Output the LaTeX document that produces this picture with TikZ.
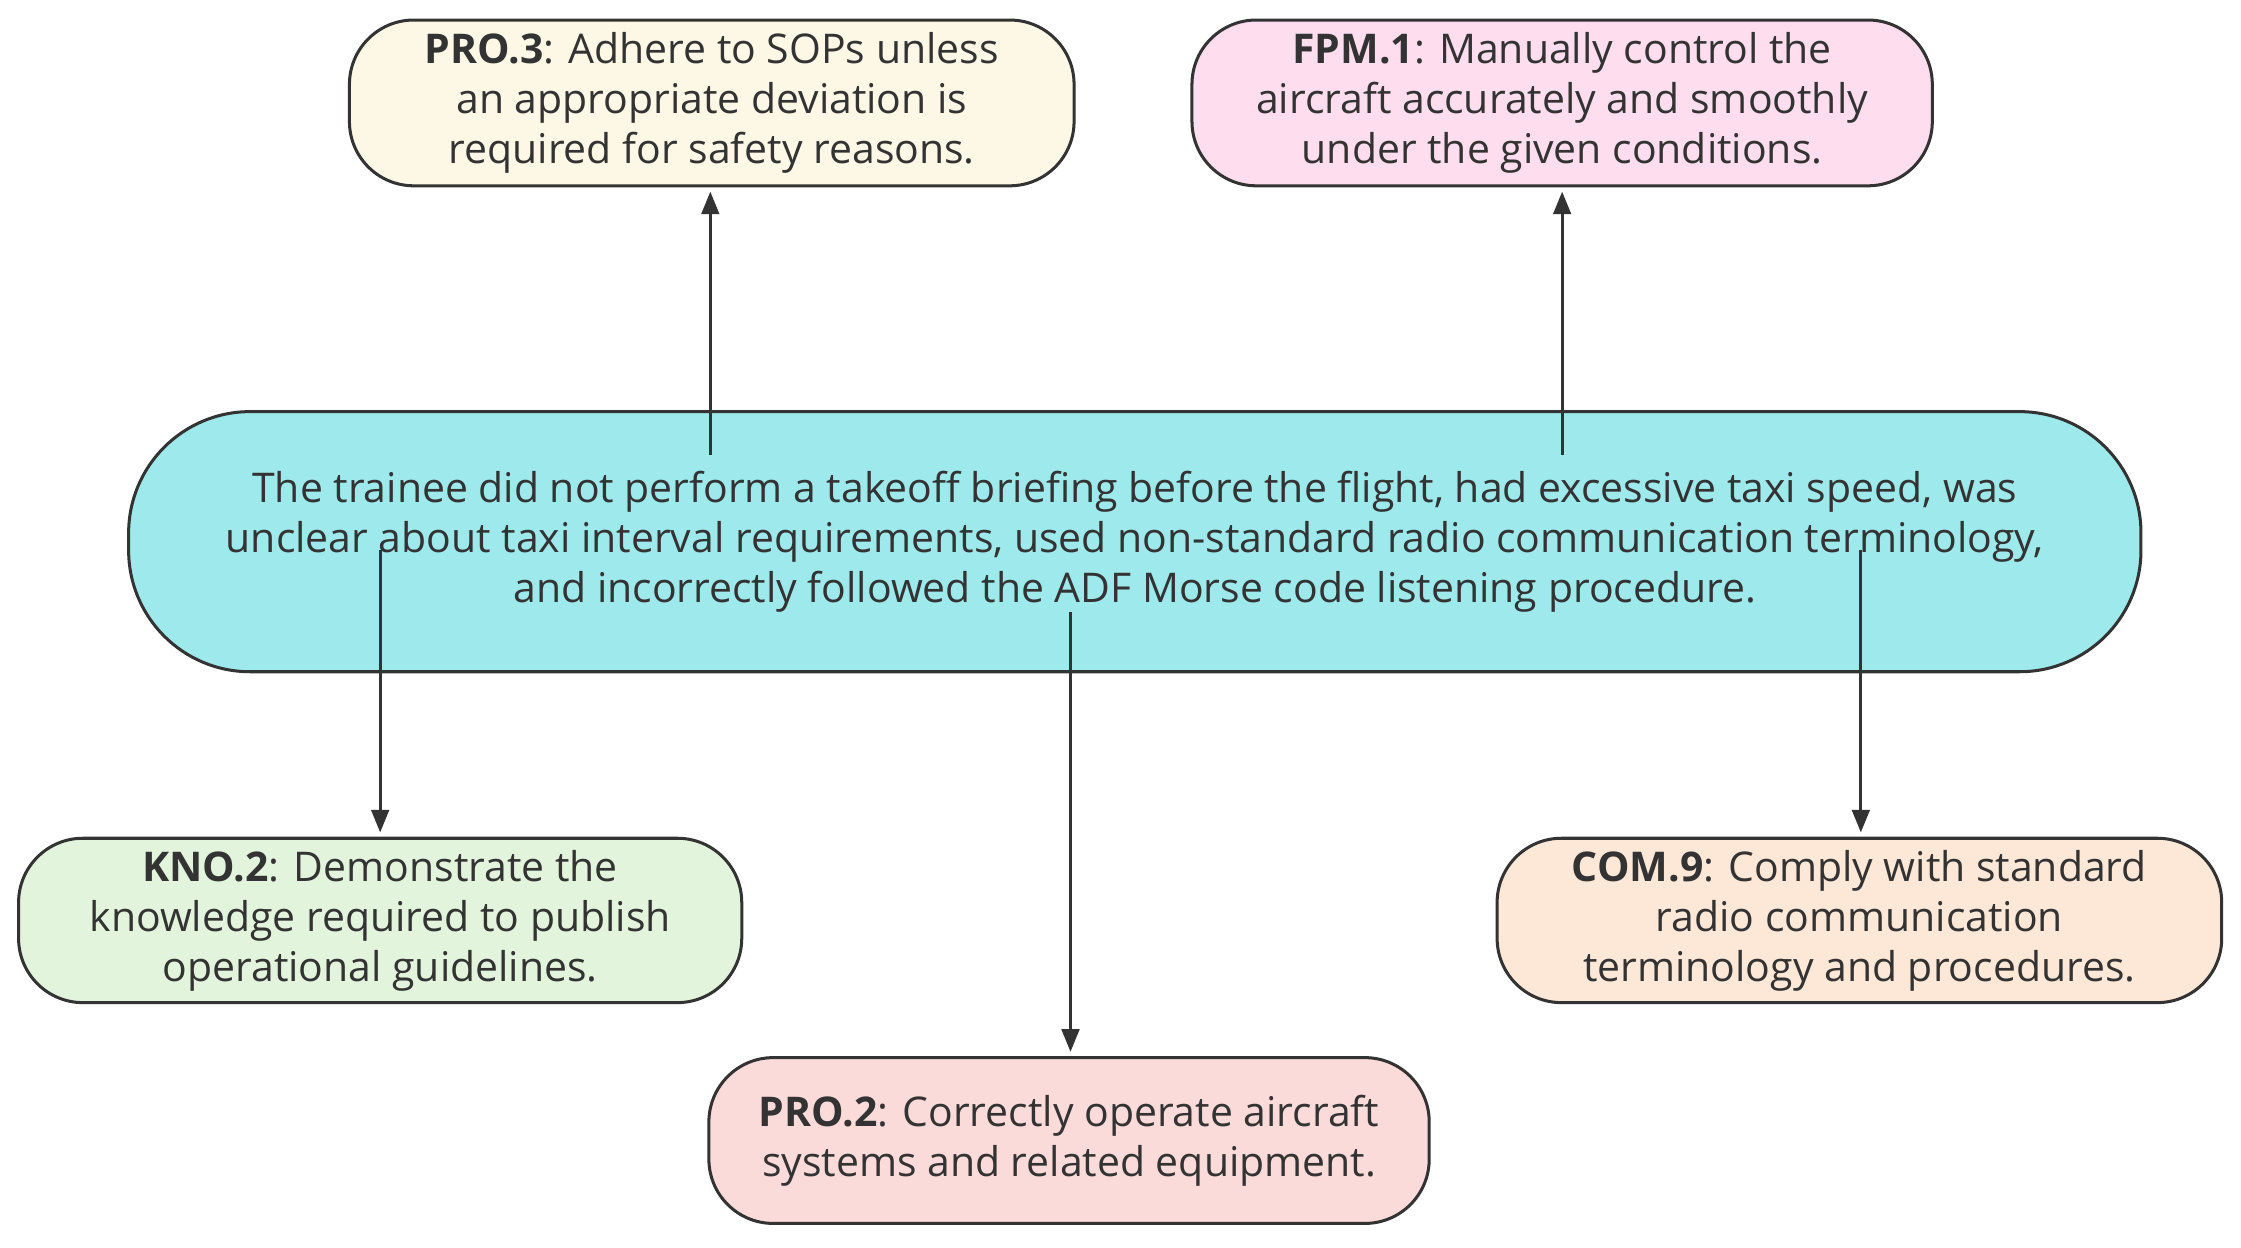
\documentclass[tikz,border=0pt]{standalone}
\usepackage{fontspec}
\setmainfont{Open Sans}
\usetikzlibrary{arrows.meta}
\definecolor{ln}{HTML}{333333}
\definecolor{cream}{HTML}{FDF8E6}
\definecolor{pinkf}{HTML}{FDDDEE}
\definecolor{cyanf}{HTML}{9EE9EC}
\definecolor{greenf}{HTML}{E2F5DC}
\definecolor{peach}{HTML}{FDE8D8}
\definecolor{redf}{HTML}{FBDADA}
\begin{document}
\begin{tikzpicture}[x=0.02cm,y=-0.02cm,
  box/.style={draw=ln,line width=1.2pt,rounded corners=0.9cm,align=center,inner sep=0pt,
    font=\fontsize{16.3}{19.9}\selectfont,text=ln},
  arr/.style={draw=ln,line width=1.2pt,-{Triangle[length=9pt,width=7pt]}}]
\useasboundingbox (0,0) rectangle (1568,873);
\node[box,fill=cream,minimum width=507*0.02cm,minimum height=116*0.02cm] (pro3) at (498,72)
 {\textbf{PRO.3}: Adhere to SOPs unless\\an appropriate deviation is\\required for safety reasons.};
\node[box,fill=pinkf,minimum width=518*0.02cm,minimum height=116*0.02cm] (fpm1) at (1093,72)
 {\textbf{FPM.1}: Manually control the\\aircraft accurately and smoothly\\under the given conditions.};
\node[box,fill=cyanf,rounded corners=1.7cm,minimum width=1408*0.02cm,minimum height=182*0.02cm] (c) at (794,379)
 {The trainee did not perform a takeoff briefing before the flight, had excessive taxi speed, was\\unclear about taxi interval requirements, used non-standard radio communication terminology,\\and incorrectly followed the ADF Morse code listening procedure.};
\node[box,fill=greenf,minimum width=506*0.02cm,minimum height=115*0.02cm] (kno2) at (266,644)
 {\textbf{KNO.2}: Demonstrate the\\knowledge required to publish\\operational guidelines.};
\node[box,fill=peach,minimum width=507*0.02cm,minimum height=115*0.02cm] (com9) at (1301,644)
 {\textbf{COM.9}: Comply with standard\\radio communication\\terminology and procedures.};
\node[box,fill=redf,minimum width=504*0.02cm,minimum height=116*0.02cm] (pro2) at (748,798)
 {\textbf{PRO.2}: Correctly operate aircraft\\systems and related equipment.};
\coordinate (s1) at (497,318);
\coordinate (s2) at (1093,318);
\coordinate (s3) at (266,385);
\coordinate (s4) at (749,428);
\coordinate (s5) at (1302,385);
\draw[arr] (s1) -- ([yshift=-0.06cm]pro3.south -| s1);
\draw[arr] (s2) -- ([yshift=-0.06cm]fpm1.south -| s2);
\draw[arr] (s3) -- ([yshift=0.06cm]kno2.north -| s3);
\draw[arr] (s4) -- ([yshift=0.06cm]pro2.north -| s4);
\draw[arr] (s5) -- ([yshift=0.06cm]com9.north -| s5);
\end{tikzpicture}
\end{document}
